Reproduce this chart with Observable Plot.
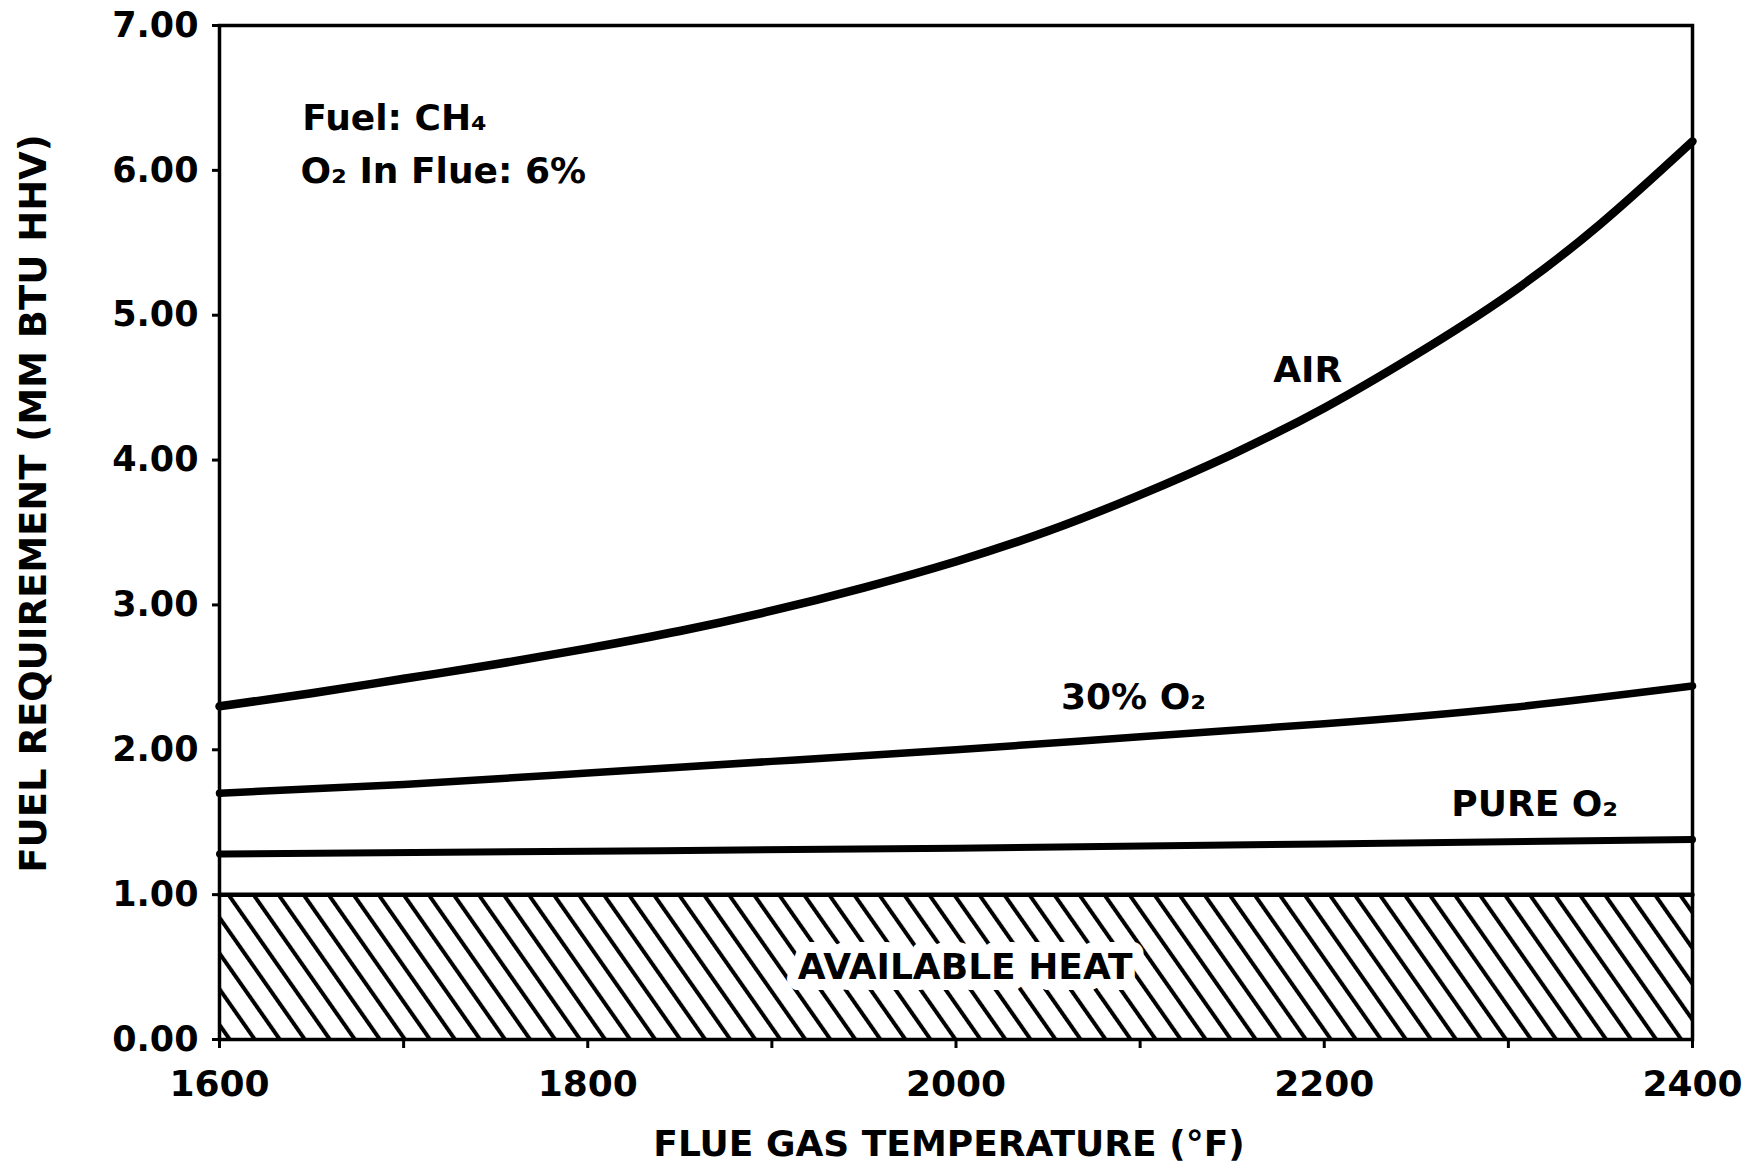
<!DOCTYPE html>
<html>
<head>
<meta charset="utf-8">
<script src="https://cdn.jsdelivr.net/npm/d3@7"></script>
<script src="https://cdn.jsdelivr.net/npm/@observablehq/plot@0.6"></script>
<style>
  html, body { margin: 0; padding: 0; background: #fff; }
  #chart svg { display: block; max-width: none !important; }
</style>
</head>
<body>
<div id="chart"></div>
<script>
// ---- Data ----
const airTemps = [1600,1650,1700,1750,1800,1850,1900,1950,2000,2050,2100,2150,2200,2250,2300,2350,2400];
const airFuel  = [2.30,2.39,2.49,2.59,2.70,2.82,2.96,3.12,3.30,3.51,3.76,4.04,4.36,4.73,5.14,5.63,6.20];

const o2_30Temps = [1600,1700,1800,1900,2000,2100,2200,2300,2400];
const o2_30Fuel  = [1.70,1.76,1.84,1.92,2.00,2.09,2.18,2.29,2.44];

const pureO2Temps = [1600,1800,2000,2200,2400];
const pureO2Fuel  = [1.28,1.30,1.32,1.35,1.38];

const heatTemps = [1600,2400];
const availableHeat = [1.00,1.00];

const yTicks = [0,1,2,3,4,5,6,7];
const xTicks = [1600,1800,2000,2200,2400];
const xMinorTicks = [1700,1900,2100,2300];

const xTitle = "FLUE GAS TEMPERATURE (°F)";
const yTitle = "FUEL REQUIREMENT (MM BTU HHV)";

// curve / annotation labels
const labelText  = ["Fuel: CH₄", "O₂ In Flue: 6%", "AIR", "30% O₂", "PURE O₂"];
const labelTemp  = [1645, 1644, 2191, 2057, 2269];
const labelValue = [6.36, 5.99, 4.62, 2.36, 1.62];
const labelAlign = ["start", "start", "middle", "start", "start"];

const heatLabel = "AVAILABLE HEAT";
const heatLabelTemp = 2005;
const heatLabelValue = 0.50;

// ---- Build tables ----
const air = airTemps.map((t, i) => ({t, v: airFuel[i]}));
const o2_30 = o2_30Temps.map((t, i) => ({t, v: o2_30Fuel[i]}));
const pure = pureO2Temps.map((t, i) => ({t, v: pureO2Fuel[i]}));
const heat = heatTemps.map((t, i) => ({t, v: availableHeat[i]}));
const labels = labelText.map((s, i) => ({s, t: labelTemp[i], v: labelValue[i], a: labelAlign[i]}));

const FONT = "'DejaVu Sans', 'Liberation Sans', sans-serif";

const svg = Plot.plot({
  width: 1759,
  height: 1168,
  marginLeft: 219,
  marginRight: 67,
  marginTop: 25,
  marginBottom: 129,
  style: {fontFamily: FONT, fontWeight: "bold", color: "black", background: "white"},
  x: {domain: [1600, 2400]},
  y: {domain: [0, 7]},
  marks: [
    Plot.areaY(heat, {x: "t", y: "v", fill: "url(#hatch)"}),
    Plot.lineY(heat, {x: "t", y: "v", stroke: "black", strokeWidth: 4.5}),
    Plot.text([heatLabel], {x: () => heatLabelTemp, y: () => heatLabelValue, text: d => d,
      fontSize: 36, fontWeight: "bold", fill: "black", stroke: "white", strokeWidth: 22, strokeLinejoin: "round"}),
    Plot.frame({stroke: "black", strokeWidth: 3.5}),
    Plot.line(air, {x: "t", y: "v", stroke: "black", strokeWidth: 8.5, curve: "natural"}),
    Plot.line(o2_30, {x: "t", y: "v", stroke: "black", strokeWidth: 7.5, curve: "natural"}),
    Plot.line(pure, {x: "t", y: "v", stroke: "black", strokeWidth: 7, curve: "natural"}),
    Plot.text(labels.filter(d => d.a === "start"), {x: "t", y: "v", text: "s", textAnchor: "start", fontSize: 36, fontWeight: "bold", fill: "black"}),
    Plot.text(labels.filter(d => d.a === "middle"), {x: "t", y: "v", text: "s", textAnchor: "middle", fontSize: 36, fontWeight: "bold", fill: "black"}),
    Plot.axisY(yTicks, {tickSize: 7, tickPadding: 14, strokeWidth: 3, fontSize: 35, fontWeight: "bold",
      tickFormat: d => d.toFixed(2), label: null}),
    Plot.axisX(xTicks, {tickSize: 9, tickPadding: 22, strokeWidth: 3, fontSize: 36, fontWeight: "bold",
      tickFormat: d => String(d), label: null}),
    Plot.axisX(xMinorTicks, {tickSize: 9, strokeWidth: 3, tickFormat: () => "", label: null}),
    Plot.text([xTitle], {frameAnchor: "bottom", text: d => d, textAnchor: "middle", lineAnchor: "middle",
      dy: 105, dx: -7, fontSize: 36, fontWeight: "bold", fill: "black"}),
    Plot.text([yTitle], {frameAnchor: "left", text: d => d, textAnchor: "middle", lineAnchor: "middle",
      rotate: -90, dx: -185, dy: -29, fontSize: 37, fontWeight: "bold", fill: "black"})
  ]
});

// hatch pattern definition for the available-heat area
const defs = d3.select(svg).insert("defs", ":first-child");
const pat = defs.append("pattern")
  .attr("id", "hatch")
  .attr("patternUnits", "userSpaceOnUse")
  .attr("width", 20.5)
  .attr("height", 20)
  .attr("patternTransform", "rotate(-35)");
pat.append("rect").attr("width", 20.5).attr("height", 20).attr("fill", "white");
pat.append("line").attr("x1", 2).attr("y1", -2).attr("x2", 2).attr("y2", 22)
  .attr("stroke", "black").attr("stroke-width", 4);

document.getElementById("chart").appendChild(svg);
</script>
</body>
</html>
